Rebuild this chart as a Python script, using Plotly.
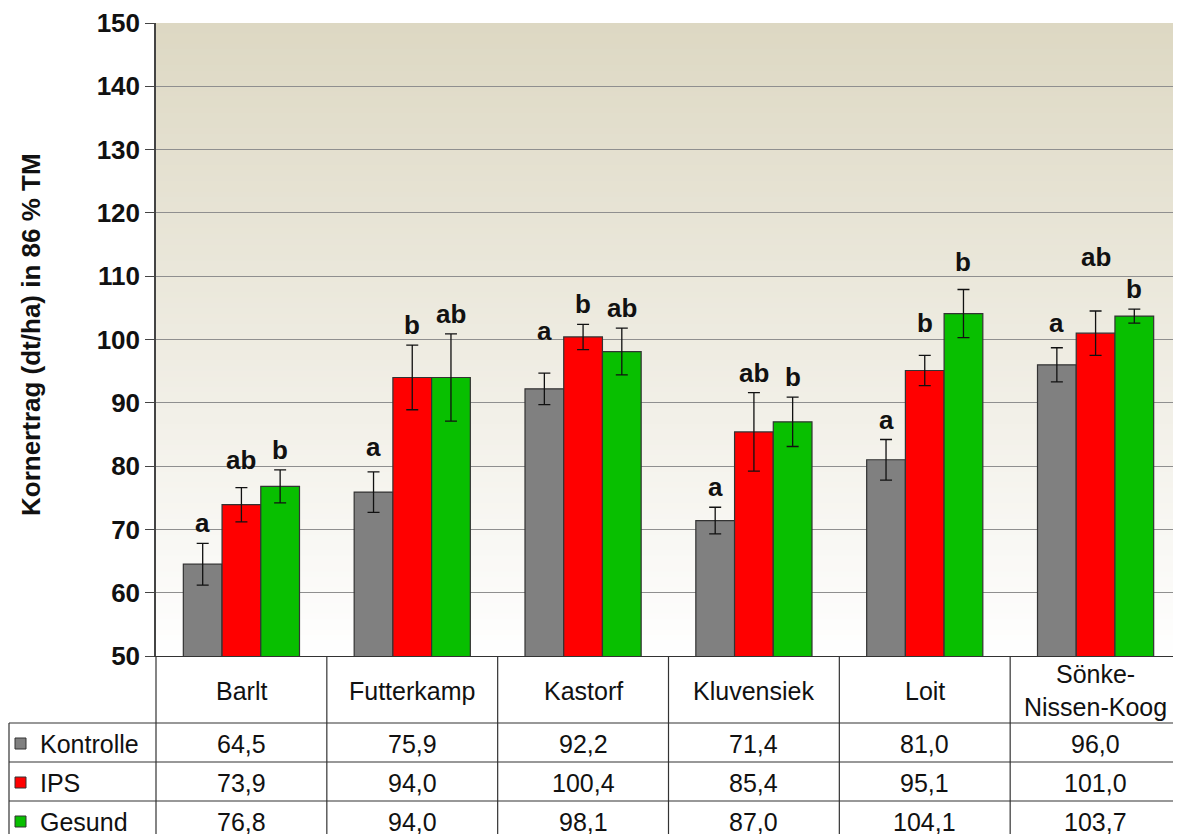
import plotly.graph_objects as go

# data
sites = ["Barlt", "Futterkamp", "Kastorf", "Kluvensiek", "Loit", "Sönke-<br>Nissen-Koog"]
series = ["Kontrolle", "IPS", "Gesund"]
kontrolle = [64.5, 75.9, 92.2, 71.4, 81.0, 96.0]
ips = [73.9, 94.0, 100.4, 85.4, 95.1, 101.0]
gesund = [76.8, 94.0, 98.1, 87.0, 104.1, 103.7]
err_kontrolle = [3.3, 3.2, 2.5, 2.1, 3.2, 2.7]
err_ips = [2.7, 5.1, 2.0, 6.2, 2.4, 3.5]
err_gesund = [2.6, 6.9, 3.7, 3.9, 3.8, 1.1]
letters_kontrolle = ["a", "a", "a", "a", "a", "a"]
letters_ips = ["ab", "b", "b", "ab", "b", "ab"]
letters_gesund = ["b", "ab", "ab", "b", "b", "b"]

values = [kontrolle, ips, gesund]
errors = [err_kontrolle, err_ips, err_gesund]
letters = [letters_kontrolle, letters_ips, letters_gesund]
colors = ["#808080", "#FF0000", "#08BF00"]

# the page body adds an 8 px margin, so the figure is a bit smaller than the window
PAGE_OFF = 8
W, H = 1181 - PAGE_OFF, 834 - PAGE_OFF
M_L, M_R, M_T, M_B = 148, 0, 15, 178
PLOT_W = W - M_L - M_R
PLOT_H = H - M_T - M_B
BARGAP = 0.32
Y0, Y1 = 50, 150
FONT = "Arial, Liberation Sans, sans-serif"
TXT = "#111111"

# a few labels sit higher than the rest in the original
LETTER_LIFT = {(2, 0): 22, (0, 1): 8, (4, 1): 12, (5, 1): 34,
               (1, 0): 5, (5, 0): 5, (4, 2): 7}


def sy(py):
    """screen pixel y -> paper y"""
    return (H - M_B - (py - PAGE_OFF)) / PLOT_H


def sx(px):
    """screen pixel x -> paper x"""
    return (px - PAGE_OFF - M_L) / PLOT_W


fig = go.Figure()
for name, vals, errs, col in zip(series, values, errors, colors):
    fig.add_trace(
        go.Bar(
            name=name,
            x=sites,
            y=vals,
            marker=dict(color=col, line=dict(color="#333333", width=1.2)),
            error_y=dict(type="data", array=errs, color=TXT, thickness=1.3, width=6),
        )
    )

shapes = []
# beige-to-white gradient background (overlapping bands, no seams)
N_BANDS = 120
top = (221, 216, 195)
step = (Y1 - Y0) / N_BANDS
for i in range(N_BANDS):
    f = i / N_BANDS
    c = tuple(round(t + (255 - t) * f) for t in top)
    y_hi = Y1 - step * i
    shapes.append(
        dict(
            type="rect", xref="paper", yref="y", x0=0, x1=1,
            y0=max(Y0, y_hi - step * 2), y1=y_hi,
            fillcolor=f"rgb{c}", line=dict(width=0), layer="below",
        )
    )

# table grid under the chart
LINE = dict(color="#333333", width=1.2)
n = len(sites)
row_px = [656, 723, 762, 801, 845]
for k in range(n):
    xp = k / n
    shapes.append(dict(type="line", xref="paper", yref="paper", x0=xp, x1=xp,
                       y0=0, y1=sy(row_px[-1]), line=LINE))
x_left = sx(9)
for py in row_px[1:-1]:
    shapes.append(dict(type="line", xref="paper", yref="paper", x0=x_left, x1=1,
                       y0=sy(py), y1=sy(py), line=LINE))
shapes.append(dict(type="line", xref="paper", yref="paper", x0=x_left, x1=x_left,
                   y0=sy(row_px[1]), y1=sy(row_px[-1]), line=LINE))

annotations = []
cell_font = dict(family=FONT, size=25, color=TXT)
# site names
for k, s in enumerate(sites):
    annotations.append(dict(
        x=(k + 0.5) / n, y=sy((row_px[0] + row_px[1]) / 2 + 1),
        xref="paper", yref="paper", xanchor="center", yanchor="middle",
        text=s, showarrow=False, font=cell_font, align="center",
    ))
# legend column and values
bottom_px = [723, 762, 801, 840]
for r, (name, vals, col) in enumerate(zip(series, values, colors)):
    yc = sy((bottom_px[r] + bottom_px[r + 1]) / 2 + 1)
    sq = 11
    shapes.append(dict(
        type="rect", xref="paper", yref="paper",
        x0=sx(15), x1=sx(15 + sq),
        y0=yc - sq / 2 / PLOT_H, y1=yc + sq / 2 / PLOT_H,
        fillcolor=col, line=dict(color="#333333", width=1),
    ))
    annotations.append(dict(
        x=sx(38), y=yc, xref="paper", yref="paper", text=name,
        showarrow=False, xanchor="left", yanchor="middle", font=cell_font,
    ))
    for k, v in enumerate(vals):
        annotations.append(dict(
            x=(k + 0.5) / n, y=yc, xref="paper", yref="paper",
            xanchor="center", yanchor="middle",
            text=f"{v:.1f}".replace(".", ","), showarrow=False, font=cell_font,
        ))

# significance letters
bar_w = PLOT_W / n * (1 - BARGAP) / 3
for j in range(3):
    for k, s in enumerate(sites):
        annotations.append(dict(
            x=s, y=values[j][k] + errors[j][k], xref="x", yref="y",
            text=f"<b>{letters[j][k]}</b>", showarrow=False,
            xanchor="center", yanchor="bottom",
            xshift=(j - 1) * bar_w, yshift=3 + LETTER_LIFT.get((k, j), 0),
            font=dict(family=FONT, size=26, color=TXT),
        ))

# y axis title
annotations.append(dict(
    x=sx(31), y=sy(335), xref="paper", yref="paper",
    xanchor="center", yanchor="middle",
    text="<b>Kornertrag (dt/ha) in 86 % TM</b>", textangle=-90, showarrow=False,
    font=dict(family=FONT, size=26, color=TXT),
))

fig.update_layout(
    width=W,
    height=H,
    margin=dict(l=M_L, r=M_R, t=M_T, b=M_B),
    barmode="group",
    bargap=BARGAP,
    bargroupgap=0,
    showlegend=False,
    paper_bgcolor="white",
    plot_bgcolor="rgba(0,0,0,0)",
    shapes=shapes,
    annotations=annotations,
    xaxis=dict(showticklabels=False, showgrid=False, showline=True,
               linecolor="#333333", linewidth=1.2, ticks="", fixedrange=True),
    yaxis=dict(
        range=[Y0, Y1], dtick=10, showgrid=True, gridcolor="#8f8f8f", gridwidth=1.3,
        showline=True, linecolor="#444444", linewidth=1.5,
        ticks="outside", ticklen=9, tickcolor="#444444", tickwidth=1.3,
        tickfont=dict(family=FONT, size=26, color=TXT, weight="bold"),
        zeroline=False, fixedrange=True,
    ),
)

fig.write_html("out.html")
